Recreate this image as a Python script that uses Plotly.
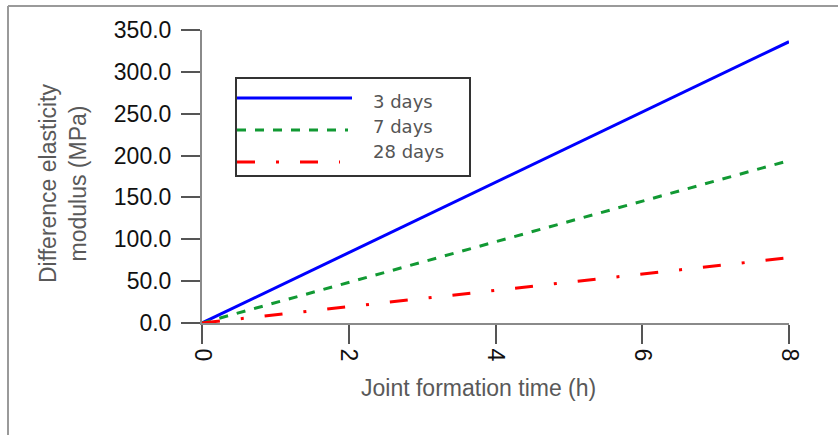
import plotly.graph_objects as go

# ---- data ----
time_h = [0, 2, 4, 6, 8]
series_names = ["3 days", "7 days", "28 days"]
days3 = [0, 84, 168, 252, 336]
days7 = [0, 48.5, 97, 145.5, 194]
days28 = [0, 19.5, 39, 58.5, 78]
y_ticks = [0, 50, 100, 150, 200, 250, 300, 350]
x_ticks = [0, 2, 4, 6, 8]

# ---- layout constants ----
W, H = 838, 435
ML, MR, MT, MB = 202, 49, 30, 112
PW, PH = W - ML - MR, H - MT - MB

def px_x(px):
    return (px - ML) / PW

def px_y(py):
    return (H - MB - py) / PH

colors = ["#0000ff", "#119933", "#ff0000"]
dashes = ["solid", "9px,9px", "18px,21px,3px,21px"]
values = [days3, days7, days28]

fig = go.Figure()
for name, vals, c, d in zip(series_names, values, colors, dashes):
    fig.add_trace(go.Scatter(x=time_h, y=vals, mode="lines", name=name,
                             line=dict(color=c, width=3, dash=d),
                             showlegend=False))

axis_font = dict(family="Liberation Sans, Arial", size=23, color="#111111")
fig.update_layout(
    width=W, height=H,
    margin=dict(l=ML, r=MR, t=MT, b=MB),
    paper_bgcolor="white", plot_bgcolor="white",
    xaxis=dict(range=[0, 8], tickvals=x_ticks, ticktext=[str(v) for v in x_ticks],
               tickangle=90, ticks="outside", ticklen=19, tickwidth=1.5,
               tickcolor="#555555", showline=True, linecolor="#8a8a8a",
               linewidth=2, showgrid=False, zeroline=False,
               tickfont=axis_font),
    yaxis=dict(range=[0, 350], tickvals=y_ticks,
               ticktext=[f"{v:.1f}" for v in y_ticks],
               ticks="outside", ticklen=19, tickwidth=1.5,
               tickcolor="#555555", showline=True, linecolor="#8a8a8a",
               linewidth=2, showgrid=False, zeroline=False,
               tickfont=axis_font, ticklabelstandoff=5),
)

shapes = []
# outer frame (left & top)
shapes.append(dict(type="line", xref="paper", yref="paper",
                   x0=px_x(8), x1=px_x(8), y0=px_y(6), y1=px_y(440),
                   line=dict(color="#9a9a9a", width=2)))
shapes.append(dict(type="line", xref="paper", yref="paper",
                   x0=px_x(8), x1=px_x(845), y0=px_y(6), y1=px_y(6),
                   line=dict(color="#9a9a9a", width=2)))
# legend box
shapes.append(dict(type="rect", xref="paper", yref="paper",
                   x0=px_x(236), x1=px_x(470), y0=px_y(78), y1=px_y(176),
                   line=dict(color="#333333", width=2), fillcolor="white",
                   layer="below"))
sample_y = [98, 130, 162]
sample_x1 = [352, 348, 340]
for c, d, sy, sx1 in zip(colors, dashes, sample_y, sample_x1):
    shapes.append(dict(type="line", xref="paper", yref="paper",
                       x0=px_x(237), x1=px_x(sx1), y0=px_y(sy), y1=px_y(sy),
                       line=dict(color=c, width=3, dash=d)))
fig.update_layout(shapes=shapes)

annotations = []
text_y = [101, 126, 151]
for name, ty in zip(series_names, text_y):
    annotations.append(dict(text=name, xref="paper", yref="paper",
                            x=px_x(371), y=px_y(ty), xanchor="left",
                            yanchor="middle", showarrow=False,
                            font=dict(family="DejaVu Sans, Verdana", size=18,
                                      color="#555555")))
annotations.append(dict(text="Difference elasticity<br>modulus (MPa)",
                        xref="paper", yref="paper", x=px_x(63), y=px_y(184),
                        xanchor="center", yanchor="middle", textangle=-90,
                        showarrow=False,
                        font=dict(family="Liberation Sans, Arial", size=23,
                                  color="#595959")))
annotations.append(dict(text="Joint formation time (h)",
                        xref="paper", yref="paper", x=px_x(478), y=px_y(388),
                        xanchor="center", yanchor="middle", showarrow=False,
                        font=dict(family="Liberation Sans, Arial", size=23,
                                  color="#595959")))
fig.update_layout(annotations=annotations)

fig.write_html("out.html")
